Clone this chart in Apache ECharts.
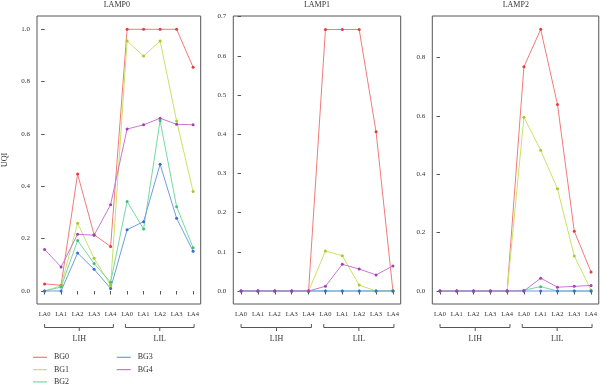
<!DOCTYPE html>
<html>
<head>
<meta charset="utf-8">
<script src="https://cdn.jsdelivr.net/npm/echarts@6/dist/echarts.min.js"></script>
<style>html,body{margin:0;padding:0;background:#fff}#c{width:600px;height:387px}</style>
</head>
<body>
<div id="c"></div>
<script>
// ---- data ----
const xLabels = ['LA0','LA1','LA2','LA3','LA4','LA0','LA1','LA2','LA3','LA4'];
const groupLabels = ['LIH','LIL'];
const seriesNames = ['BG0','BG1','BG2','BG3','BG4'];
const panelTitles = ['LAMP0','LAMP1','LAMP2'];

const lamp0_BG0 = [0.027,0.022,0.447,0.215,0.170,1.000,1.000,1.000,1.000,0.855];
const lamp0_BG1 = [0.000,0.020,0.259,0.125,0.022,0.955,0.898,0.955,0.650,0.380];
const lamp0_BG2 = [0.000,0.015,0.193,0.105,0.033,0.342,0.237,0.651,0.322,0.165];
const lamp0_BG3 = [0.000,0.000,0.145,0.083,0.010,0.234,0.265,0.484,0.278,0.152];
const lamp0_BG4 = [0.159,0.092,0.217,0.213,0.330,0.619,0.635,0.660,0.637,0.635];

const lamp1_BG0 = [0,0,0,0,0,0.667,0.667,0.667,0.406,0.000];
const lamp1_BG1 = [0,0,0,0,0,0.102,0.090,0.015,0.000,0.002];
const lamp1_BG2 = [0,0,0,0,0,0,0,0,0,0];
const lamp1_BG3 = [0,0,0,0,0,0,0,0,0,0];
const lamp1_BG4 = [0,0,0,0,0,0.012,0.068,0.056,0.041,0.064];

const lamp2_BG0 = [0,0,0,0,0,0.768,0.896,0.639,0.205,0.065];
const lamp2_BG1 = [0,0,0,0,0,0.595,0.482,0.350,0.120,0.003];
const lamp2_BG2 = [0,0,0,0,0,0.003,0.015,0.000,0.000,0.000];
const lamp2_BG3 = [0,0,0,0,0,0,0,0,0,0];
const lamp2_BG4 = [0,0,0,0,0,0.000,0.044,0.013,0.016,0.019];

const yTicks0 = [0,0.2,0.4,0.6,0.8,1.0];
const yTicks1 = [0,0.1,0.2,0.3,0.4,0.5,0.6,0.7];
const yTicks2 = [0,0.2,0.4,0.6,0.8];

// ---- styling ----
const panels = [
  {values:[lamp0_BG0,lamp0_BG1,lamp0_BG2,lamp0_BG3,lamp0_BG4], ticks:yTicks0, min:-0.0497, max:1.0508, left:33, width:167.7},
  {values:[lamp1_BG0,lamp1_BG1,lamp1_BG2,lamp1_BG3,lamp1_BG4], ticks:yTicks1, min:-0.0332, max:0.7015, left:233.3, width:167.4},
  {values:[lamp2_BG0,lamp2_BG1,lamp2_BG2,lamp2_BG3,lamp2_BG4], ticks:yTicks2, min:-0.0445, max:0.9418, left:432.3, width:167}
];
const lineColors = ['#F27A7A','#C9E266','#74D9A4','#6F9BE0','#C777D3'];
const pointColors = ['#E8393A','#A6CB26','#3FBF7F','#3A6BD0','#A43FB3'];
const FONT = 'Liberation Serif';
const TXT = '#333';
const AX = '#555';
const xIdx = xLabels.map((_, i) => i);

const grids = [], xAxes = [], yAxes = [], titles = [], series = [];
panels.forEach((p, g) => {
  grids.push({left:p.left, width:p.width, top:16, bottom:83, show:true, borderColor:AX, borderWidth:1, containLabel:false});
  titles.push({text:panelTitles[g], left:p.left + p.width/2, top:1, textAlign:'center', padding:0,
    textStyle:{fontFamily:FONT, fontSize:8, fontWeight:'normal', color:TXT}});
  xAxes.push({type:'value', gridIndex:g, min:-0.46, max:9.46,
    axisLine:{show:false}, splitLine:{show:false},
    axisTick:{show:true, customValues:xIdx, length:3.5, lineStyle:{color:AX}},
    axisLabel:{customValues:xIdx, formatter:v => xLabels[Math.round(v)], fontFamily:FONT, fontSize:6.5, color:TXT, margin:6.5}});
  yAxes.push({type:'value', gridIndex:g, min:p.min, max:p.max,
    name: g === 0 ? 'UQI' : '', nameLocation:'middle', nameGap:28, nameRotate:90,
    nameTextStyle:{fontFamily:FONT, fontSize:8, color:TXT},
    axisLine:{show:false}, splitLine:{show:false},
    axisTick:{show:true, customValues:p.ticks, length:3.5, lineStyle:{color:AX}},
    axisLabel:{customValues:p.ticks, formatter:v => v.toFixed(1), fontFamily:FONT, fontSize:7, color:TXT, margin:7}});
  p.values.forEach((vals, s) => {
    series.push({type:'line', name:seriesNames[s], xAxisIndex:g, yAxisIndex:g,
      data: vals.map((v, i) => [xIdx[i], v]),
      symbol:'circle', symbolSize:3, showSymbol:true,
      lineStyle:{color:lineColors[s], width:1},
      itemStyle:{color:pointColors[s]},
      emphasis:{disabled:true}, animation:false});
  });
});

const legendItem = n => ({name:n, itemStyle:{color:lineColors[seriesNames.indexOf(n)]}});
const legendBase = {type:'plain', orient:'vertical', icon:'rect', itemWidth:14, itemHeight:1.2, itemGap:2.3, padding:0,
  textStyle:{fontFamily:FONT, fontSize:8, color:TXT, lineHeight:10, padding:[0,0,0,2]}, selectedMode:false};

const chart = echarts.init(document.getElementById('c'), null, {renderer:'canvas'});
chart.setOption({
  animation:false,
  title:titles,
  grid:grids, xAxis:xAxes, yAxis:yAxes, series:series,
  legend:[
    Object.assign({}, legendBase, {left:33, top:352.3, data:['BG0','BG1','BG2'].map(legendItem)}),
    Object.assign({}, legendBase, {left:116.7, top:352.3, data:['BG3','BG4'].map(legendItem)})
  ]
});

// group brackets under the x axis
const bracketSpans = [[0, 4.17, 2.1], [4.9, 9.06, 6.98]];
const gfx = [];
panels.forEach((p, g) => {
  bracketSpans.forEach((sp, k) => {
    const x0 = chart.convertToPixel({xAxisIndex:g}, sp[0]);
    const x1 = chart.convertToPixel({xAxisIndex:g}, sp[1]);
    const xm = chart.convertToPixel({xAxisIndex:g}, sp[2]);
    gfx.push({type:'polyline', shape:{points:[[x0,324],[x0,327.5],[x1,327.5],[x1,324]]}, style:{stroke:AX, lineWidth:1, fill:null}, silent:true});
    gfx.push({type:'line', shape:{x1:xm, y1:327.5, x2:xm, y2:331}, style:{stroke:AX, lineWidth:1}, silent:true});
    gfx.push({type:'text', x:xm, y:338.5, style:{text:groupLabels[k], align:'center', verticalAlign:'middle', font:'8px "' + FONT + '"', fill:TXT}, silent:true});
  });
});
chart.setOption({graphic:gfx});
</script>
</body>
</html>
